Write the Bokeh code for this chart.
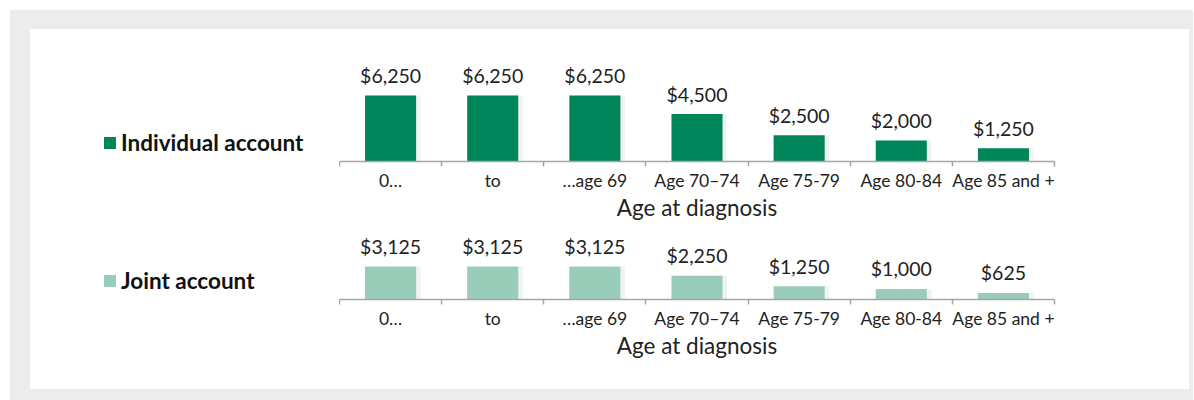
from bokeh.plotting import figure
from bokeh.models import Range1d, FixedTicker, Legend, LegendItem, ColumnDataSource
from bokeh.layouts import column, row
from bokeh.embed import file_html
from bokeh.resources import INLINE
from bokeh.core.properties import value

# ---- data ----
categories = ["0…", "to", "…age 69", "Age 70–74", "Age 75-79", "Age 80-84", "Age 85 and +"]
individual = [6250, 6250, 6250, 4500, 2500, 2000, 1250]
joint = [3125, 3125, 3125, 2250, 1250, 1000, 625]
series_names = ["Individual account", "Joint account"]
series_colors = ["#00855a", "#9acdb9"]
x_title = "Age at diagnosis"

FONT = "Lato"
TEXT = "#222222"
AXIS = "#a6a6a6"
WHITE = {"background-color": "white"}


def blank(p):
    p.grid.visible = False
    p.outline_line_color = None
    p.background_fill_color = None
    p.border_fill_color = None
    p.styles = WHITE


def make_chart(vals, name, color, height, ymax, top, bottom):
    n = len(categories)
    xs = [i + 0.5 for i in range(n)]
    src = ColumnDataSource(dict(x=xs, xs=[x + 0.045 for x in xs], v=vals,
                                label=[f"${v:,}" for v in vals]))

    p = figure(width=850, height=height,
               x_range=Range1d(0, n), y_range=Range1d(0, ymax),
               y_axis_location=None,
               output_backend="svg", toolbar_location=None,
               min_border_left=0, min_border_right=135,
               min_border_top=top, min_border_bottom=bottom)
    blank(p)

    # soft shadow + bars
    p.vbar(x="xs", top="v", width=0.5, source=src, fill_color="black",
           fill_alpha=0.05, line_color=None)
    p.vbar(x="x", top="v", width=0.5, source=src, fill_color=color, line_color=None)
    p.text(x="x", y="v", text="label", source=src, text_align="center",
           text_baseline="alphabetic", y_offset=-20,
           text_font=value(FONT), text_font_size="19.5px", text_color=TEXT)

    ax = p.xaxis[0]
    ax.ticker = FixedTicker(ticks=xs, minor_ticks=list(range(n + 1)))
    ax.major_label_overrides = {x: c for x, c in zip(xs, categories)}
    ax.major_tick_out = 0
    ax.major_tick_in = 0
    ax.minor_tick_out = 5
    ax.minor_tick_in = 0
    ax.axis_line_color = AXIS
    ax.axis_line_width = 1.5
    ax.minor_tick_line_color = AXIS
    ax.minor_tick_line_width = 1.5
    ax.major_label_standoff = 3
    ax.major_label_text_font = FONT
    ax.major_label_text_font_size = "17.5px"
    ax.major_label_text_color = TEXT
    ax.axis_label = x_title
    ax.axis_label_standoff = 0
    ax.axis_label_text_font = FONT
    ax.axis_label_text_font_size = "22.5px"
    ax.axis_label_text_font_style = "normal"
    ax.axis_label_text_color = TEXT

    # legend panel to the left of the chart (frame aligned with the chart's frame)
    lf = figure(width=309, height=height, x_range=Range1d(0, 1), y_range=Range1d(0, 1),
                x_axis_location=None, y_axis_location=None,
                output_backend="svg", toolbar_location=None,
                min_border_left=67, min_border_right=0,
                min_border_top=top, min_border_bottom=bottom)
    blank(lf)
    key = lf.vbar(x="x", top="v", width=0.5, source=src, fill_color=color,
                  line_color=None, visible=False)
    legend = Legend(items=[LegendItem(label=name, renderers=[key])],
                    location="bottom_left", orientation="vertical",
                    border_line_color=None, background_fill_alpha=0,
                    padding=0, margin=5, glyph_width=15, glyph_height=15,
                    label_standoff=4, label_text_font=FONT,
                    label_text_font_style="bold", label_text_font_size="22.5px",
                    label_text_color="#111111")
    lf.add_layout(legend)
    return row(lf, p)


r1 = make_chart(individual, series_names[0], series_colors[0], 197, 11000, 16, 65)
r2 = make_chart(joint, series_names[1], series_colors[1], 163, 6440, 5, 90)
r1.margin = (19, 4, 0, 20)
r2.margin = (0, 4, 11, 20)

layout = column(r1, r2, margin=(10, 0, 0, 10), styles={"background-color": "#ececec"})

open("out.html", "w").write(file_html(layout, INLINE))
